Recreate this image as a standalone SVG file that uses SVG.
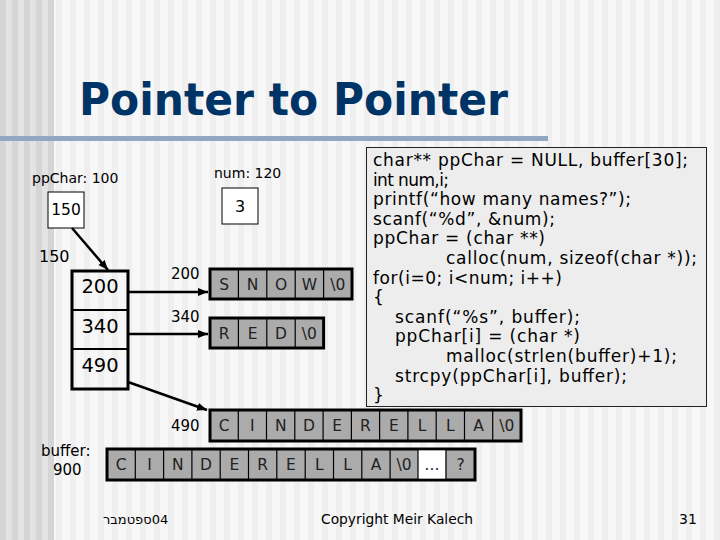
<svg xmlns="http://www.w3.org/2000/svg" width="720" height="540" viewBox="0 0 720 540">
<defs>
<pattern id="stripesL" width="12" height="10" patternUnits="userSpaceOnUse">
<rect width="12" height="10" fill="#e3e3e3"/>
<rect width="6" height="10" fill="#d5d5d5"/>
</pattern>
<pattern id="stripesR" width="14" height="10" patternUnits="userSpaceOnUse">
<rect width="14" height="10" fill="#f7f7f7"/>
<rect width="6" height="10" fill="#efefef"/>
</pattern>
<marker id="arr" markerWidth="12" markerHeight="10" refX="10" refY="5" orient="auto" markerUnits="userSpaceOnUse">
<path d="M0,1 L10,5 L0,9 Z" fill="#000"/>
</marker>
<style>
.lbl{font-family:"DejaVu Sans",sans-serif;fill:#000}
.cell{font-family:"DejaVu Sans",sans-serif;font-size:15.5px;fill:#222;text-anchor:middle}
.code{font-family:"DejaVu Sans",sans-serif;font-size:17px;fill:#000}
.row{fill:#ababab;stroke:#000;stroke-width:3}
.div{stroke:#000;stroke-width:1.2}
.con{stroke:#000;stroke-width:2.5;fill:none;marker-end:url(#arr)}
</style>
</defs>
<rect width="720" height="540" fill="url(#stripesR)"/>
<rect width="54" height="540" fill="url(#stripesL)"/>

<text x="79" y="115" font-family="DejaVu Sans,sans-serif" font-weight="bold" font-size="44" fill="#003366" textLength="429" lengthAdjust="spacingAndGlyphs">Pointer to Pointer</text>
<rect x="0" y="136" width="548" height="5" fill="#91a7c2"/>

<g id="ppChar">
<text class="lbl" x="32" y="183" font-size="14">ppChar: 100</text>
<rect x="48" y="192" width="36" height="36" fill="#fff" stroke="#000" stroke-width="1"/>
<text class="lbl" x="66" y="215" font-size="15.5" text-anchor="middle">150</text>
</g>

<g id="num">
<text class="lbl" x="214" y="178" font-size="14">num: 120</text>
<rect x="222" y="188" width="36" height="36" fill="#fff" stroke="#000" stroke-width="1"/>
<text class="lbl" x="240" y="212" font-size="16" text-anchor="middle">3</text>
</g>

<g id="array">
<text class="lbl" x="39" y="262" font-size="16">150</text>
<rect x="72" y="271" width="56" height="118" fill="none" stroke="#000" stroke-width="3"/>
<line x1="72" y1="310" x2="128" y2="310" stroke="#000" stroke-width="2"/>
<line x1="72" y1="349" x2="128" y2="349" stroke="#000" stroke-width="2"/>
<text class="lbl" x="100" y="293" font-size="19.5" text-anchor="middle">200</text>
<text class="lbl" x="100" y="333" font-size="19.5" text-anchor="middle">340</text>
<text class="lbl" x="100" y="372" font-size="19.5" text-anchor="middle">490</text>
</g>

<g id="snow">
<text class="lbl" x="171" y="279" font-size="15">200</text>
<rect class="row" x="210" y="269" width="142" height="30"/>
<line class="div" x1="238.4" y1="269" x2="238.4" y2="299"/>
<line class="div" x1="266.8" y1="269" x2="266.8" y2="299"/>
<line class="div" x1="295.2" y1="269" x2="295.2" y2="299"/>
<line class="div" x1="323.6" y1="269" x2="323.6" y2="299"/>
<text class="cell" x="224.2" y="289.5">S</text>
<text class="cell" x="252.6" y="289.5">N</text>
<text class="cell" x="281" y="289.5">O</text>
<text class="cell" x="309.4" y="289.5">W</text>
<text class="cell" x="337.8" y="289.5">\0</text>
</g>

<g id="red">
<text class="lbl" x="171" y="322" font-size="15">340</text>
<rect class="row" x="210" y="318" width="113.6" height="30"/>
<line class="div" x1="238.4" y1="318" x2="238.4" y2="348"/>
<line class="div" x1="266.8" y1="318" x2="266.8" y2="348"/>
<line class="div" x1="295.2" y1="318" x2="295.2" y2="348"/>
<text class="cell" x="224.2" y="338.5">R</text>
<text class="cell" x="252.6" y="338.5">E</text>
<text class="cell" x="281" y="338.5">D</text>
<text class="cell" x="309.4" y="338.5">\0</text>
</g>

<g id="cinderella">
<text class="lbl" x="171" y="431" font-size="15">490</text>
<rect class="row" x="210" y="410" width="311" height="31"/>
<g class="div">
<line x1="238.3" y1="410" x2="238.3" y2="441"/>
<line x1="266.5" y1="410" x2="266.5" y2="441"/>
<line x1="294.8" y1="410" x2="294.8" y2="441"/>
<line x1="323.1" y1="410" x2="323.1" y2="441"/>
<line x1="351.4" y1="410" x2="351.4" y2="441"/>
<line x1="379.6" y1="410" x2="379.6" y2="441"/>
<line x1="407.9" y1="410" x2="407.9" y2="441"/>
<line x1="436.2" y1="410" x2="436.2" y2="441"/>
<line x1="464.5" y1="410" x2="464.5" y2="441"/>
<line x1="492.7" y1="410" x2="492.7" y2="441"/>
</g>
<text class="cell" x="224.1" y="431">C</text>
<text class="cell" x="252.4" y="431">I</text>
<text class="cell" x="280.7" y="431">N</text>
<text class="cell" x="309" y="431">D</text>
<text class="cell" x="337.2" y="431">E</text>
<text class="cell" x="365.5" y="431">R</text>
<text class="cell" x="393.8" y="431">E</text>
<text class="cell" x="422" y="431">L</text>
<text class="cell" x="450.3" y="431">L</text>
<text class="cell" x="478.6" y="431">A</text>
<text class="cell" x="506.9" y="431">\0</text>
</g>

<g id="buffer">
<text class="lbl" x="41" y="456" font-size="15">buffer:</text>
<text class="lbl" x="53" y="475" font-size="15">900</text>
<rect class="row" x="107" y="449" width="368" height="31"/>
<rect x="418" y="450.5" width="27.5" height="28" fill="#fff"/>
<g class="div">
<line x1="135.3" y1="449" x2="135.3" y2="480"/>
<line x1="163.6" y1="449" x2="163.6" y2="480"/>
<line x1="191.9" y1="449" x2="191.9" y2="480"/>
<line x1="220.2" y1="449" x2="220.2" y2="480"/>
<line x1="248.5" y1="449" x2="248.5" y2="480"/>
<line x1="276.8" y1="449" x2="276.8" y2="480"/>
<line x1="305.2" y1="449" x2="305.2" y2="480"/>
<line x1="333.5" y1="449" x2="333.5" y2="480"/>
<line x1="361.8" y1="449" x2="361.8" y2="480"/>
<line x1="390.1" y1="449" x2="390.1" y2="480"/>
<line x1="418" y1="449" x2="418" y2="480"/>
<line x1="446" y1="449" x2="446" y2="480"/>
</g>
<text class="cell" x="121.2" y="470">C</text>
<text class="cell" x="149.5" y="470">I</text>
<text class="cell" x="177.8" y="470">N</text>
<text class="cell" x="206" y="470">D</text>
<text class="cell" x="234.3" y="470">E</text>
<text class="cell" x="262.7" y="470">R</text>
<text class="cell" x="291" y="470">E</text>
<text class="cell" x="319.3" y="470">L</text>
<text class="cell" x="347.6" y="470">L</text>
<text class="cell" x="376" y="470">A</text>
<text class="cell" x="404" y="470">\0</text>
<text class="cell" x="432" y="470" font-size="11">...</text>
<text class="cell" x="460.5" y="470">?</text>
</g>

<g id="code">
<rect x="366.5" y="147.5" width="340" height="259" fill="#ededed" stroke="#222" stroke-width="1"/>
<text class="code" x="373" y="166" textLength="315" lengthAdjust="spacing">char** ppChar = NULL, buffer[30];</text>
<text class="code" x="373" y="185.6" textLength="76" lengthAdjust="spacing">int num,i;</text>
<text class="code" x="373" y="205.2" textLength="258" lengthAdjust="spacing">printf(“how many names?”);</text>
<text class="code" x="373" y="224.8" textLength="182" lengthAdjust="spacing">scanf(“%d”, &amp;num);</text>
<text class="code" x="373" y="244.4" textLength="172" lengthAdjust="spacing">ppChar = (char **)</text>
<text class="code" x="446" y="264" textLength="251" lengthAdjust="spacing">calloc(num, sizeof(char *));</text>
<text class="code" x="373" y="283.6" textLength="189" lengthAdjust="spacing">for(i=0; i&lt;num; i++)</text>
<text class="code" x="373" y="303.2">{</text>
<text class="code" x="395" y="322.8" textLength="185" lengthAdjust="spacing">scanf(“%s”, buffer);</text>
<text class="code" x="395" y="342.4" textLength="185" lengthAdjust="spacing">ppChar[i] = (char *)</text>
<text class="code" x="446" y="362" textLength="231" lengthAdjust="spacing">malloc(strlen(buffer)+1);</text>
<text class="code" x="395" y="381.6" textLength="232" lengthAdjust="spacing">strcpy(ppChar[i], buffer);</text>
<text class="code" x="373" y="401.2">}</text>
</g>

<g id="connectors">
<line class="con" x1="72" y1="228" x2="108" y2="270"/>
<line class="con" x1="129" y1="292" x2="208" y2="292"/>
<line class="con" x1="129" y1="334" x2="208" y2="334"/>
<line class="con" x1="128" y1="382" x2="207" y2="410"/>
</g>

<g id="footer">
<text class="lbl" x="103" y="524" font-size="13" fill="#111">ספטמבר&#x200E;04</text>
<text class="lbl" x="321" y="524" font-size="14" textLength="152" lengthAdjust="spacingAndGlyphs">Copyright Meir Kalech</text>
<text class="lbl" x="679" y="524" font-size="14">31</text>
</g>
</svg>
